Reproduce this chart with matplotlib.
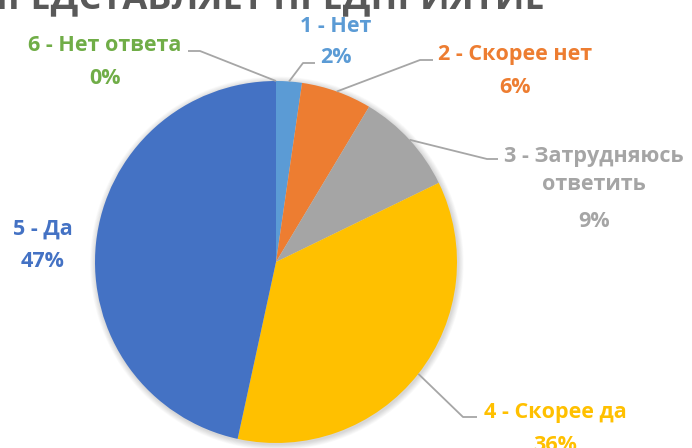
import matplotlib
matplotlib.use("Agg")
import matplotlib.pyplot as plt
from matplotlib.patches import Circle
import numpy as np

# ---- data ----
categories = ["1 - Нет", "2 - Скорее нет", "3 - Затрудняюсь\nответить", "4 - Скорее да", "5 - Да", "6 - Нет ответа"]
values = [2.3, 6.3, 9.2, 35.6, 46.6, 0.0]
colors = ["#5B9BD5", "#ED7D31", "#A5A5A5", "#FFC000", "#4472C4", "#70AD47"]
title = "ПРЕДСТАВЛЯЕТ ПРЕДПРИЯТИЕ"

plt.rcParams['font.family'] = ['Open Sans', 'DejaVu Sans']

W, H = 692, 448
fig = plt.figure(figsize=(W / 100, H / 100), dpi=100)
ax = fig.add_axes([0, 0, 1, 1])

# pie geometry in pixels (layout)
cx, cy, R = 276, 262, 181

def px(x, y):
    return ((x - cx) / R, (cy - y) / R)

wedges, _ = ax.pie(values, colors=colors, startangle=90, counterclock=False,
                   radius=1.0, center=(0, 0),
                   wedgeprops=dict(linewidth=0), normalize=True)
for w in wedges:
    w.set_zorder(2)
ax.set_xlim((0 - cx) / R, (W - cx) / R)
ax.set_ylim((cy - H) / R, (cy - 0) / R)
ax.set_aspect('equal', adjustable='box')
ax.axis('off')

# soft shadow around the pie
for k in range(8):
    r = 1.0 + 0.004 * (k + 1)
    ax.add_patch(Circle((0.005, -0.007), r, facecolor='#000000', alpha=0.018,
                        edgecolor='none', zorder=1))

total = sum(values)
pct = [f"{round(v / total * 100):.0f}%" for v in values]

# label layout: (label pixel center x, line baselines, leader elbow, leader end)
layout = {
    0: dict(x=336, ys=[32, 63], elbow=(303, 63), end=(315, 63)),
    1: dict(x=515, ys=[60, 93], elbow=(420, 60), end=(433, 60)),
    2: dict(x=594, ys=[162, 190, 227], elbow=(487, 159), end=(498, 159)),
    3: dict(x=555, ys=[418, 451], elbow=(463, 417), end=(477, 417)),
    4: dict(x=43, ys=[235, 267], elbow=None, end=None),
    5: dict(x=105, ys=[51, 84], elbow=(200, 51), end=(188, 51)),
}

lead_col = "#A6A6A6"
for i, w in enumerate(wedges):
    L = layout[i]
    lines = categories[i].split("\n") + [pct[i]]
    for t, yy in zip(lines, L['ys']):
        tx, ty = px(L['x'], yy)
        ax.text(tx, ty, t, ha='center', va='baseline', fontsize=15.5,
                fontweight='bold', color=colors[i], clip_on=False, zorder=5)
    if L['elbow'] is not None:
        ang = np.deg2rad((w.theta1 + w.theta2) / 2)
        sx, sy = np.cos(ang), np.sin(ang)
        ex, ey = px(*L['elbow'])
        nx, ny = px(*L['end'])
        ax.plot([sx, ex, nx], [sy, ey, ny], color=lead_col, lw=1.3,
                solid_capstyle='butt', zorder=3)

# title (partially cut at the top, as in the reference)
tx, ty = px(545, 8)
ax.text(tx, ty, title, ha='right', va='baseline', fontsize=26,
        fontweight='bold', color='#595959', zorder=5)

fig.savefig("out.png", dpi=100)
